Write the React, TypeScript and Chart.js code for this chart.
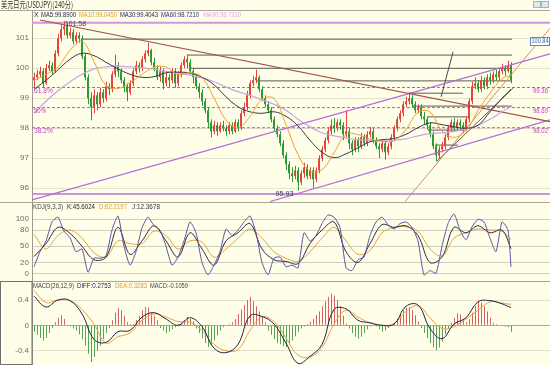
import React, { useEffect, useRef } from 'react';
import { Chart, registerables } from 'chart.js';
Chart.register(...registerables);

const TITLE = '美元日元(USDJPY)(240分)';
const PRICE_TICKS = [96, 97, 98, 99, 100, 101];
const KDJ_TICKS = [0, 20, 50, 80, 100];
const MACD_TICKS = [-0.4, 0, 0.4];

const opens = [
  99.6, 99.7, 99.8, 99.9, 99.5, 100.0, 100.1, 99.9, 100.5, 101.0,
  101.3, 101.4, 101.1, 101.2, 100.9, 101.1, 101.0, 100.4, 99.7, 99.0,
  98.7, 99.1, 98.8, 99.2, 99.0, 99.4, 99.3, 99.8, 100.1, 99.9,
  99.6, 99.4, 99.2, 99.5, 99.9, 100.1, 100.0, 100.3, 100.5, 100.6,
  100.2, 100.0, 99.7, 99.9, 99.5, 99.7, 99.6, 99.9, 99.5, 99.8,
  100.1, 100.3, 100.2, 99.9, 99.7, 99.4, 99.2, 98.9, 98.6, 98.2,
  97.9, 98.1, 97.9, 98.1, 98.0, 97.9, 98.1, 97.9, 98.2, 98.0,
  98.5, 98.7, 99.1, 99.5, 99.6, 99.7, 99.3, 99.0, 98.8, 98.6,
  98.3, 98.0, 97.8, 97.5, 97.1, 96.8, 96.5, 96.4, 96.6, 96.2,
  96.5, 96.7, 96.4, 96.6, 96.3, 96.6, 97.0, 97.3, 97.6, 97.9,
  98.1, 98.0, 98.2, 98.1, 97.8, 97.9, 97.5, 97.3, 97.6, 97.4,
  97.7, 97.5, 97.8, 97.9, 97.6, 97.4, 97.3, 97.5, 97.2, 97.4,
  97.7, 98.0, 98.3, 98.5, 98.8, 98.9, 99.0, 98.8, 98.6, 98.7,
  98.4, 98.3, 98.1, 97.8, 97.4, 97.1, 97.3, 97.4, 97.7, 98.0,
  98.2, 98.0, 98.2, 98.1, 98.0, 98.3, 98.9, 99.4, 99.5, 99.3,
  99.6, 99.4, 99.7, 99.6, 99.8, 99.7, 99.9, 100.0, 99.9, 100.1,
];
const closes = [
  99.7, 99.8, 99.9, 99.5, 100.0, 100.1, 99.9, 100.5, 101.0, 101.3,
  101.4, 101.1, 101.2, 100.9, 101.1, 101.0, 100.4, 99.7, 99.0, 98.7,
  99.1, 98.8, 99.2, 99.0, 99.4, 99.3, 99.8, 100.1, 99.9, 99.6,
  99.4, 99.2, 99.5, 99.9, 100.1, 100.0, 100.3, 100.5, 100.6, 100.2,
  100.0, 99.7, 99.9, 99.5, 99.7, 99.6, 99.9, 99.5, 99.8, 100.1,
  100.3, 100.2, 99.9, 99.7, 99.4, 99.2, 98.9, 98.6, 98.2, 97.9,
  98.1, 97.9, 98.1, 98.0, 97.9, 98.1, 97.9, 98.2, 98.0, 98.5,
  98.7, 99.1, 99.5, 99.6, 99.7, 99.3, 99.0, 98.8, 98.6, 98.3,
  98.0, 97.8, 97.5, 97.1, 96.8, 96.5, 96.4, 96.6, 96.2, 96.5,
  96.7, 96.4, 96.6, 96.3, 96.6, 97.0, 97.3, 97.6, 97.9, 98.1,
  98.0, 98.2, 98.1, 97.8, 97.9, 97.5, 97.3, 97.6, 97.4, 97.7,
  97.5, 97.8, 97.9, 97.6, 97.4, 97.3, 97.5, 97.2, 97.4, 97.7,
  98.0, 98.3, 98.5, 98.8, 98.9, 99.0, 98.8, 98.6, 98.7, 98.4,
  98.3, 98.1, 97.8, 97.4, 97.1, 97.3, 97.4, 97.7, 98.0, 98.2,
  98.0, 98.2, 98.1, 98.0, 98.3, 98.9, 99.4, 99.5, 99.3, 99.6,
  99.4, 99.7, 99.6, 99.8, 99.7, 99.9, 100.0, 99.9, 100.1, 99.6,
];
const highs = [
  99.85, 99.95, 100.05, 100.0, 100.15, 100.25, 100.2, 100.6, 101.15, 101.45,
  101.58, 101.5, 101.35, 101.3, 101.2, 101.2, 101.1, 100.5, 99.8, 99.2,
  99.3, 99.2, 99.35, 99.3, 99.55, 99.5, 99.9, 100.45, 100.2, 100.0,
  99.7, 99.5, 99.6, 100.0, 100.25, 100.2, 100.4, 100.6, 100.85, 100.65,
  100.35, 100.1, 100.05, 100.0, 99.85, 99.8, 100.0, 100.0, 99.9, 100.2,
  100.4, 100.45, 100.3, 100.0, 99.8, 99.5, 99.3, 99.0, 98.7, 98.3,
  98.25, 98.2, 98.2, 98.25, 98.1, 98.2, 98.2, 98.3, 98.3, 98.6,
  98.85, 99.25, 99.6, 99.75, 99.95, 99.75, 99.4, 99.1, 98.9, 98.7,
  98.4, 98.1, 97.9, 97.6, 97.2, 96.9, 96.7, 96.75, 96.7, 96.6,
  96.85, 96.8, 96.7, 96.7, 96.7, 97.1, 97.4, 97.7, 98.0, 98.3,
  98.35, 98.3, 98.3, 98.2, 98.6, 98.0, 97.6, 97.7, 97.7, 97.85,
  97.8, 97.9, 98.05, 98.0, 97.7, 97.5, 97.6, 97.6, 97.5, 97.8,
  98.1, 98.4, 98.6, 98.9, 99.05, 99.2, 99.1, 98.9, 98.8, 98.8,
  98.55, 98.4, 98.2, 97.9, 97.5, 97.4, 97.55, 97.8, 98.1, 98.3,
  98.35, 98.3, 98.3, 98.2, 98.4, 99.0, 99.55, 99.7, 99.6, 99.75,
  99.7, 99.8, 99.85, 99.9, 99.95, 100.0, 100.15, 100.1, 100.25, 100.2,
];
const lows = [
  99.35, 99.6, 99.7, 99.35, 99.45, 99.9, 99.8, 99.85, 100.4, 100.9,
  101.1, 101.0, 101.0, 100.8, 100.8, 100.85, 100.3, 99.6, 98.8, 98.27,
  98.5, 98.6, 98.7, 98.85, 98.9, 99.1, 99.2, 99.7, 99.7, 99.5,
  99.2, 98.9, 99.1, 99.4, 99.8, 99.85, 99.9, 100.2, 100.4, 100.1,
  99.9, 99.6, 99.55, 99.3, 99.4, 99.35, 99.5, 99.35, 99.4, 99.7,
  100.0, 100.0, 99.8, 99.5, 99.3, 99.0, 98.75, 98.5, 98.0, 97.7,
  97.8, 97.75, 97.85, 97.9, 97.75, 97.8, 97.8, 97.85, 97.9, 97.95,
  98.4, 98.6, 99.0, 99.4, 99.5, 99.2, 98.9, 98.7, 98.5, 98.2,
  97.9, 97.7, 97.4, 97.0, 96.6, 96.3, 96.2, 96.3, 95.93, 96.1,
  96.35, 96.3, 96.3, 96.0, 96.2, 96.5, 96.9, 97.2, 97.5, 97.8,
  97.85, 97.9, 97.95, 97.6, 97.7, 97.3, 97.1, 97.2, 97.2, 97.3,
  97.4, 97.4, 97.7, 97.5, 97.3, 97.0, 97.2, 96.95, 97.1, 97.3,
  97.6, 97.9, 98.2, 98.4, 98.7, 98.8, 98.7, 98.5, 98.5, 98.3,
  98.1, 97.95, 97.7, 97.3, 96.9, 97.0, 97.2, 97.3, 97.6, 97.9,
  97.9, 97.9, 97.95, 97.85, 97.9, 98.2, 98.8, 99.3, 99.2, 99.2,
  99.3, 99.3, 99.45, 99.5, 99.6, 99.6, 99.8, 99.75, 99.85, 99.5,
];

// moving averages, read every 4th bar
const maIdx = [
  0, 4, 8, 12, 16, 20, 24, 28, 32, 36, 40, 44, 48, 52, 56, 60, 64, 68, 72, 76,
  80, 84, 88, 92, 96, 100, 104, 108, 112, 116, 120, 124, 128, 132, 136, 140, 144, 148, 152, 156, 159,
];
const maFast = [
  99.6, 99.8, 100.04, 100.6, 100.9, 100.22, 99.43, 99.33, 99.52, 99.8,
  100.03, 100.04, 99.78, 99.85, 99.7, 99.01, 98.28, 98.01, 98.39, 98.96,
  98.99, 98.12, 97.12, 96.58, 96.62, 97.18, 97.79, 97.79, 97.64, 97.57,
  97.58, 97.96, 98.53, 98.54, 97.91, 97.7, 97.92, 98.59, 99.17, 99.65, 99.77,
];
const maMid = [
  99.3, 99.6, 99.95, 100.3, 100.5, 100.42, 100.2, 99.98, 99.8, 99.7,
  99.72, 99.85, 99.87, 99.84, 99.7, 99.45, 99.05, 98.72, 98.55, 98.5,
  98.55, 98.4, 98.08, 97.6, 97.2, 97.02, 97.15, 97.35, 97.55, 97.62,
  97.66, 97.8, 98.02, 98.18, 98.12, 98.05, 98.0, 98.1, 98.55, 99.0, 99.3,
];
const maSlow = [
  98.5, 98.9, 99.25, 99.55, 99.8, 99.98, 100.05, 100.07, 100.05, 100.02,
  99.97, 99.9, 99.85, 99.77, 99.68, 99.55, 99.38, 99.22, 99.1, 98.95,
  98.8, 98.6, 98.3, 98.05, 97.85, 97.75, 97.68, 97.62, 97.6, 97.58,
  97.6, 97.65, 97.75, 97.82, 97.85, 97.9, 97.98, 98.1, 98.3, 98.55, 98.72,
];

// KDJ
const jIdx = Array.from({ length: 80 }, (_, k) => 2 * k).concat([159]);
const kdjJ = [
  12, 40, 60, 95, 104, 78, 66, 40, 45, 2,
  28, 28, 32, 80, 106, 50, 15, 40, 84, 104,
  88, 80, 50, 15, 30, 60, 95, 75, 20, -3,
  15, 40, 82, 70, 80, 95, 106, 75, 20, -3,
  28, 30, 12, 15, 10, 75, 60, 70, 92, 108,
  104, 85, 10, 5, 25, 30, 70, 95, 104, 90,
  82, 92, 95, 85, 60, -3, 5, 0, 50, 92,
  110, 80, 62, 86, 100, 95, 65, 40, 95, 80,
  12,
];
const kdjK = [
  31, 55, 85, 74, 50, 25, 30, 85, 35, 60,
  88, 60, 30, 75, 45, 15, 60, 75, 92, 45,
  25, 22, 18, 55, 80, 95, 40, 20, 55, 90,
  85, 88, 70, 20, 30, 85, 75, 88, 75, 80,
  45.6,
];
const kdjD = [
  72, 45, 70, 80, 65, 38, 30, 60, 55, 55,
  78, 70, 45, 60, 58, 30, 45, 65, 82, 65,
  40, 28, 22, 40, 65, 85, 60, 35, 42, 75,
  85, 86, 78, 45, 32, 65, 75, 82, 80, 78,
  62.2,
];

// MACD
const macdHist = [
  -0.1, -0.15, -0.2, -0.24, -0.2, -0.12, -0.04, 0.05, 0.12, 0.16,
  0.1, -0.01, -0.02, -0.05, -0.08, -0.14, -0.22, -0.32, -0.45, -0.58,
  -0.5, -0.4, -0.32, -0.22, -0.12, -0.04, 0.08, 0.2, 0.27, 0.24,
  0.15, 0.05, 0.02, 0.02, 0.08, 0.15, 0.24, 0.29, 0.28, 0.2,
  0.15, 0.08, -0.04, -0.08, -0.12, -0.1, -0.06, -0.03, 0.02, 0.04,
  0.08, 0.13, 0.1, 0.06, -0.05, -0.12, -0.2, -0.28, -0.34, -0.32,
  -0.24, -0.16, -0.08, -0.03, -0.01, 0.02, 0.05, 0.1, 0.18, 0.25,
  0.32, 0.4, 0.45, 0.38, 0.3, 0.22, 0.12, 0.05, -0.08, -0.15,
  -0.22, -0.28, -0.3, -0.33, -0.34, -0.3, -0.24, -0.17, -0.1, -0.05,
  -0.02, 0.02, 0.06, 0.1, 0.16, 0.22, 0.3, 0.38, 0.45, 0.5,
  0.47, 0.4, 0.3, 0.15, 0.03, -0.05, -0.12, -0.18, -0.21, -0.18,
  -0.12, -0.06, -0.02, 0.01, -0.02, -0.06, -0.1, -0.08, -0.04, -0.01,
  0.04, 0.1, 0.18, 0.24, 0.28, 0.29, 0.24, 0.16, 0.06, -0.04,
  -0.12, -0.2, -0.28, -0.35, -0.39, -0.35, -0.26, -0.14, -0.05, 0.04,
  0.12, 0.19, 0.17, 0.1, 0.05, 0.1, 0.2, 0.3, 0.39, 0.36,
  0.3, 0.22, 0.12, 0.04, 0.02, 0.01, -0.01, -0.02, -0.03, -0.1,
];
const macdDiff = [
  0.46, 0.29, 0.4, 0.39, 0.18, -0.22, -0.27, -0.1, -0.08, 0.13,
  0.2, 0.1, 0.0, 0.12, -0.02, -0.36, -0.43, -0.3, 0.15, 0.14,
  0.02, -0.28, -0.6, -0.49, -0.3, 0.25, 0.26, 0.08, 0.04, 0.0,
  0.02, 0.3, 0.32, -0.05, -0.21, 0.02, 0.12, 0.37, 0.39, 0.34,
  0.28,
];
const macdDea = [
  0.55, 0.36, 0.4, 0.39, 0.25, 0.02, -0.28, -0.18, -0.12, 0.08,
  0.18, 0.13, 0.06, 0.05, -0.08, -0.3, -0.4, -0.38, -0.08, 0.13,
  0.06, -0.2, -0.47, -0.5, -0.35, 0.02, 0.24, 0.13, 0.04, 0.0,
  0.03, 0.22, 0.31, 0.12, -0.05, -0.02, 0.1, 0.24, 0.37, 0.35,
  0.33,
];

// drawn objects (bar index, price)
const fibLevels = [99.36, 98.69, 98.02];
const fibNames = ['61.8%', '50%', '38.2%'];
const bandHigh = 101.52;
const bandLow = 95.81;
const levelPrices = [100.97, 100.44, 100.0, 99.58, 99.17, 98.74, 98.38, 97.94, 97.44];
const levelFrom = [16, 51, 52, 74.3, 125.3, 126.3, 131.3, 131.3, 133.7];
const levelTo = [159.3, 159.3, 159.3, 159.3, 143, 159.3, 144.7, 143, 141.3];
const trendDown = [[2, 101.61], [172, 98.22]];
const channelUp = [[-0.67, 95.61], [172, 100.48]];
const channelLow = [[78.7, 95.56], [172, 98.28]];
const steepLine = [[123.7, 95.56], [172, 101.33]];
const riseLine = [[134.3, 96.9], [159.7, 99.34]];
const fanLine = [[135.7, 99.05], [139.7, 100.55]];
const highMark = 101.58;
const lowMark = 95.93;

const BG = '#fffee9';
const FONT = '"Liberation Sans", "DejaVu Sans", Arial, sans-serif';
const RED = '#e5443e';
const GREEN = '#2f9a34';

function pts(xs: number[], ys: number[]) {
  return ys.map((y, k) => ({ x: xs[k], y }));
}
function seg(p: number[][]) {
  return p.map(([x, y]) => ({ x, y }));
}
function lineDs(data: any[], color: string, width: number, order: number, yAxisID = 'yMain', extra: any = {}) {
  return {
    type: 'line', data, borderColor: color, borderWidth: width, pointRadius: 0,
    fill: false, tension: 0, order, yAxisID, xAxisID: 'x', ...extra,
  };
}

const overlay = {
  id: 'overlay',
  beforeDraw(chart: any) {
    const { ctx, width, height } = chart;
    ctx.save();
    ctx.fillStyle = BG;
    ctx.fillRect(0, 0, width, height);
    ctx.restore();
  },
  afterDraw(chart: any) {
    const ctx = chart.ctx;
    const ym = chart.scales.yMain;
    const yk = chart.scales.yKdj;
    const yd = chart.scales.yMacd;
    const xs = chart.scales.x;
    const W = chart.width;
    ctx.save();
    const txt = (s: string, x: number, y: number, color: string, w?: number, size = 8, fam = FONT) => {
      ctx.font = `${size}px ${fam}`;
      ctx.fillStyle = color;
      ctx.textBaseline = 'middle';
      ctx.textAlign = 'left';
      if (w) ctx.fillText(s, x, y, w); else ctx.fillText(s, x, y);
    };
    // separators
    ctx.strokeStyle = '#a8a79a';
    ctx.lineWidth = 1;
    ctx.beginPath();
    ctx.moveTo(0, 10.5); ctx.lineTo(W, 10.5);
    ctx.moveTo(0, Math.round(yk.top) + 0.5); ctx.lineTo(W, Math.round(yk.top) + 0.5);
    ctx.moveTo(32, Math.round(yd.top) + 0.5); ctx.lineTo(W, Math.round(yd.top) + 0.5);
    ctx.stroke();
    ctx.strokeStyle = '#707070';
    ctx.strokeRect(0.5, Math.round(yd.top) + 0.5, 31.5, chart.height - Math.round(yd.top) - 1);

    // title
    txt(TITLE, 1, 5, '#333333', 72, 9, '"Noto Sans CJK SC", sans-serif');
    // top-right buttons
    ctx.fillStyle = '#dde9f2';
    ctx.strokeStyle = '#9ab6cc';
    ctx.fillRect(533.5, 1.5, 7, 6); ctx.strokeRect(533.5, 1.5, 7, 6);
    ctx.fillRect(541.5, 1.5, 7, 6); ctx.strokeRect(541.5, 1.5, 7, 6);

    // legends
    const ly = 15;
    txt('X', 34, ly, '#333333', 5, 7);
    txt('MA5:99.8900', 41, ly, '#1e1e5a', 35, 7);
    txt('MA10:99.0450', 79, ly, '#e09a2a', 38, 7);
    txt('MA30:99.4043', 120, ly, '#1e1e5a', 38, 7);
    txt('MA60:98.7210', 161, ly, '#2a2a80', 38, 7);
    txt('MA90:98.7210', 203, ly, '#e6a6e6', 38, 7);

    const ky = yk.top + 5.5;
    txt('KDJ(9,3,3)', 33, ky, '#444444', 30, 7);
    txt('K:45.6024', 67, ky, '#222222', 28, 7);
    txt('D:62.2197', 99, ky, '#e09a2a', 28, 7);
    txt('J:12.3678', 132, ky, '#303050', 28, 7);

    const my = yd.top + 5;
    txt('MACD(26,12,9)', 33, my, '#444444', 41, 7);
    txt('DIFF:0.2753', 77, my, '#1e1e5a', 34, 7);
    txt('DEA:0.3283', 115, my, '#e09a2a', 32, 7);
    txt('MACD:-0.1059', 150, my, '#444444', 38, 7);

    // fib labels
    fibLevels.forEach((lv, k) => {
      const py = ym.getPixelForValue(lv) + 3.5;
      txt(fibNames[k], 34, py, '#c043c0', fibNames[k].length > 3 ? 19 : 12, 8);
      txt(lv.toFixed(2), 533, py, '#c043c0', 15, 8);
    });
    // high / low marks
    const hx = xs.getPixelForValue(10);
    txt(highMark.toFixed(2), hx + 1, ym.getPixelForValue(bandHigh) + 1, '#3a3a5a', 21, 8);
    const lx = xs.getPixelForValue(80.5);
    txt(lowMark.toFixed(2), lx, ym.getPixelForValue(bandLow), '#3a3a5a', 18, 8);

    // price box
    const by = ym.getPixelForValue(100.84);
    ctx.fillStyle = '#ffffff';
    ctx.fillRect(530.5, Math.round(by) - 5.5, 19, 8);
    ctx.strokeStyle = '#5a86c4';
    ctx.strokeRect(530.5, Math.round(by) - 5.5, 19, 8);
    txt('100.84', 531.5, Math.round(by) - 1.5, '#2d5fae', 17, 7);
    ctx.restore();
  },
};

function yScale(min: number, max: number, weight: number, order: number, ticks: number[], fmt: (v: number) => string, grid: (v: number) => string) {
  return {
    type: 'linear', position: 'left', stack: 'panes', stackWeight: weight, weight: order,
    min, max,
    border: { display: true, color: '#9c9b8e', width: 1 },
    grid: { color: (c: any) => grid(c.tick ? c.tick.value : 0), drawTicks: false, tickLength: 0, lineWidth: 1 },
    ticks: { padding: 3, color: '#6a6a6a', font: { family: FONT, size: 8 }, autoSkip: false, callback: (v: any) => fmt(Number(v)) },
    afterBuildTicks: (s: any) => { s.ticks = ticks.map((v) => ({ value: v })); },
    afterFit: (s: any) => { s.width = 32; s.paddingTop = 0; s.paddingBottom = 0; },
  };
}

export default function App() {
  const ref = useRef<HTMLCanvasElement>(null);
  useEffect(() => {
    document.body.style.margin = '0';
    const canvas = ref.current;
    if (!canvas) return;
    const upColor = closes.map((c, i) => (c >= opens[i] ? RED : GREEN));
    const histColor = macdHist.map((v) => (v >= 0 ? '#d86262' : '#53a653'));

    const datasets: any[] = [];
    fibLevels.forEach((lv) => {
      datasets.push(lineDs([{ x: -0.67, y: lv }, { x: 172, y: lv }], '#c455c4', 1, 30, 'yMain', { borderDash: [3, 2] }));
    });
    datasets.push(lineDs([{ x: -0.67, y: bandHigh }, { x: 172, y: bandHigh }], '#d593e2', 2, 29));
    datasets.push(lineDs([{ x: -0.67, y: bandLow }, { x: 172, y: bandLow }], '#b873d6', 1.5, 29));
    levelPrices.forEach((p, k) => {
      datasets.push(lineDs([{ x: levelFrom[k], y: p }, { x: levelTo[k], y: p }], '#5a5a58', 1, 28));
    });
    datasets.push({
      type: 'bar', xAxisID: 'xw', yAxisID: 'yMain', order: 20, grouped: false,
      data: closes.map((_, i) => ({ x: i, y: [lows[i], highs[i]] })),
      backgroundColor: upColor, barThickness: 1, borderWidth: 0, inflateAmount: 0,
    });
    datasets.push({
      type: 'bar', xAxisID: 'x', yAxisID: 'yMain', order: 19, grouped: false,
      data: closes.map((c, i) => ({ x: i, y: [opens[i], c] })),
      backgroundColor: upColor, barThickness: 2, borderWidth: 0, inflateAmount: 0, minBarLength: 1,
    });
    datasets.push(lineDs(seg(trendDown), '#a2524e', 1.2, 12));
    datasets.push(lineDs(seg(channelUp), '#b46ad8', 1.2, 12));
    datasets.push(lineDs(seg(channelLow), '#b46ad8', 1.2, 12));
    datasets.push(lineDs(seg(steepLine), '#c99263', 1, 12));
    datasets.push(lineDs(seg(riseLine), '#6a5a48', 1, 12));
    datasets.push(lineDs(seg(fanLine), '#4a4a48', 1, 12));
    datasets.push(lineDs(pts(maIdx, maSlow), '#c9a3e4', 1.2, 10, 'yMain', { tension: 0.4 }));
    datasets.push(lineDs(pts(maIdx, maMid), '#3a3a4a', 1, 9, 'yMain', { tension: 0.4 }));
    datasets.push(lineDs(pts(maIdx, maFast), '#f0a028', 1, 8, 'yMain', { tension: 0.4 }));

    datasets.push(lineDs(pts(maIdx, kdjD), '#e3a445', 1, 6, 'yKdj', { tension: 0.35 }));
    datasets.push(lineDs(pts(maIdx, kdjK), '#2c2c44', 1, 5, 'yKdj', { tension: 0.35 }));
    datasets.push(lineDs(pts(jIdx, kdjJ), '#6152a8', 1, 4, 'yKdj', { tension: 0.2 }));

    datasets.push({
      type: 'bar', xAxisID: 'xw', yAxisID: 'yMacd', order: 7, grouped: false,
      data: macdHist.map((v, i) => ({ x: i, y: v })),
      backgroundColor: histColor, barThickness: 1, borderWidth: 0, inflateAmount: 0,
    });
    datasets.push(lineDs(pts(maIdx, macdDea), '#e3a445', 1, 5, 'yMacd', { tension: 0.4 }));
    datasets.push(lineDs(pts(maIdx, macdDiff), '#22224e', 1, 4, 'yMacd', { tension: 0.4 }));

    const chart = new Chart(canvas, {
      type: 'line',
      data: { datasets },
      options: {
        animation: false,
        responsive: false,
        devicePixelRatio: 1,
        events: [],
        layout: { padding: { top: 10, left: 0, right: 0, bottom: 0 } },
        plugins: { legend: { display: false }, tooltip: { enabled: false }, title: { display: false } },
        scales: {
          x: { type: 'linear', min: -0.6667, max: 172, display: false, offset: false },
          xw: { type: 'linear', min: -0.8333, max: 171.8333, display: false, offset: false },
          yMain: yScale(95.543, 101.943, 192, 3, PRICE_TICKS, (v) => String(v), () => 'rgba(196,194,170,0.45)'),
          yKdj: yScale(-14.26, 132.0, 79, 2, KDJ_TICKS, (v) => String(v), () => '#cfcdbb'),
          yMacd: yScale(-0.6256, 0.6998, 84, 1, MACD_TICKS, (v) => (v === 0 ? '0' : v.toFixed(1)), (v) => (v === 0 ? '#a9a9a0' : '#e2e0cc')),
        },
      } as any,
      plugins: [overlay],
    } as any);
    return () => chart.destroy();
  }, []);
  return (
    <div style={{ width: 550, height: 365 }}>
      <canvas ref={ref} width={550} height={365} style={{ display: 'block', width: 550, height: 365 }} />
    </div>
  );
}
